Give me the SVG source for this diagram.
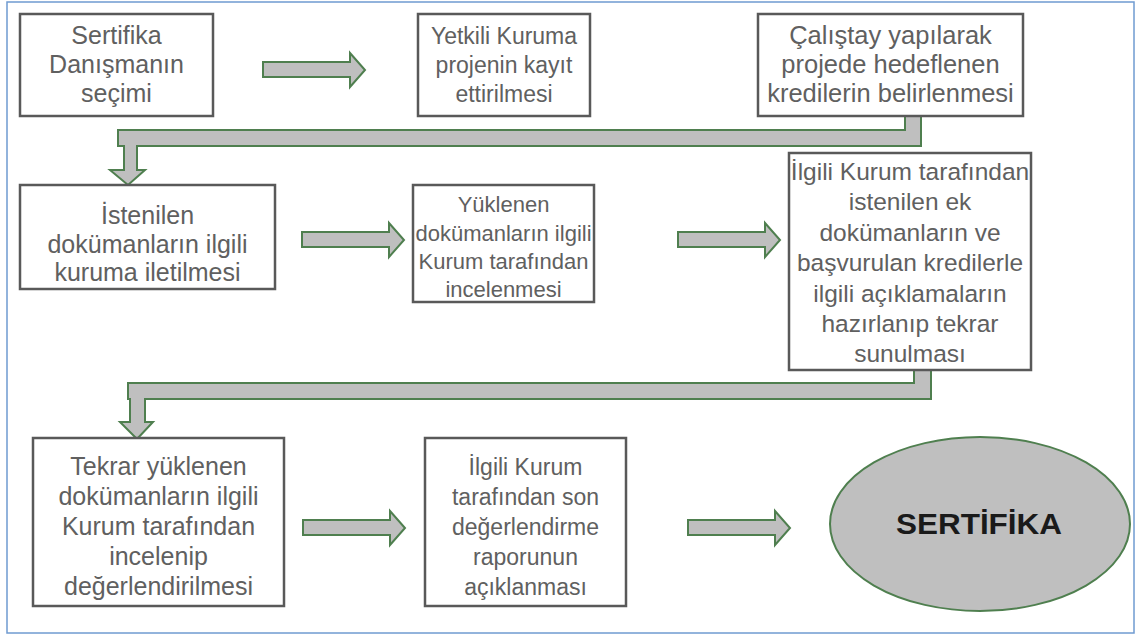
<svg xmlns="http://www.w3.org/2000/svg" width="1140" height="637" viewBox="0 0 1140 637">
<defs>
<style>
.box{fill:#ffffff;stroke:#595959;stroke-width:2.5}
.arr{fill:#bfbfbf;stroke:#4f7f4f;stroke-width:2;stroke-linejoin:miter}
.t{font-family:"Liberation Sans",Arial,sans-serif;font-size:23px;fill:#606060;text-anchor:middle}
.big{font-family:"Liberation Sans",Arial,sans-serif;font-size:29px;font-weight:bold;fill:#1a1a1a;text-anchor:middle}
</style>
</defs>
<rect x="0" y="0" width="1140" height="637" fill="#ffffff"/>
<rect x="7" y="2" width="1127" height="631" fill="none" stroke="#6f9bd1" stroke-width="1.5"/>
<g id="connectors">
<path class="arr" d="M263,62 L350,62 L350,53 L365,70 L350,87 L350,77 L263,77 Z"/>
<path class="arr" d="M302,232 L389,232 L389,223 L404,240 L389,257 L389,247 L302,247 Z"/>
<path class="arr" d="M678,232 L765,232 L765,223 L780,240 L765,257 L765,247 L678,247 Z"/>
<path class="arr" d="M303,520 L390,520 L390,511 L405,528 L390,545 L390,535 L303,535 Z"/>
<path class="arr" d="M688,520 L775,520 L775,511 L790,528 L775,545 L775,535 L688,535 Z"/>
<path class="arr" d="M905,116 L921,116 L921,146 L137,146 L137,170 L145,170 L128,185 L110,170 L124,170 L124,146 L118,146 L118,130 L905,130 Z"/>
<path class="arr" d="M914,370 L931,370 L931,399 L145,399 L145,422 L153,422 L137,439 L120,422 L130,422 L130,399 L128,399 L128,383 L914,383 Z"/>
</g>
<g id="n1"><rect class="box" x="20" y="14" width="193" height="102"/>
<text class="t" style="font-size:25px" x="116.5" y="44">Sertifika</text><text class="t" style="font-size:25px" x="116.5" y="73">Danışmanın</text><text class="t" style="font-size:25px" x="116.5" y="102">seçimi</text></g>
<g id="n2"><rect class="box" x="418" y="14" width="172" height="102"/>
<text class="t" x="504" y="44">Yetkili Kuruma</text><text class="t" x="504" y="73">projenin kayıt</text><text class="t" x="504" y="102">ettirilmesi</text></g>
<g id="n3"><rect class="box" x="758" y="14" width="265" height="102"/>
<text class="t" style="font-size:25.5px" x="890.5" y="44">Çalıştay yapılarak</text><text class="t" style="font-size:25.5px" x="890.5" y="73">projede hedeflenen</text><text class="t" style="font-size:25.5px" x="890.5" y="102">kredilerin belirlenmesi</text></g>
<g id="n4"><rect class="box" x="20" y="185" width="255" height="104"/>
<text class="t" style="font-size:25px" x="147.5" y="224">İstenilen</text><text class="t" style="font-size:25px" x="147.5" y="253">dokümanların ilgili</text><text class="t" style="font-size:25px" x="147.5" y="281">kuruma iletilmesi</text></g>
<g id="n5"><rect class="box" x="413" y="185" width="181" height="117"/>
<text class="t" style="font-size:22px" x="503.5" y="212">Yüklenen</text><text class="t" style="font-size:22px" x="503.5" y="241">dokümanların ilgili</text><text class="t" style="font-size:22px" x="503.5" y="269">Kurum tarafından</text><text class="t" style="font-size:22px" x="503.5" y="297">incelenmesi</text></g>
<g id="n6"><rect class="box" x="789" y="153" width="242" height="217"/>
<text class="t" style="font-size:24.5px" x="910" y="180">İlgili Kurum tarafından</text><text class="t" style="font-size:24.5px" x="910" y="210">istenilen ek</text><text class="t" style="font-size:24.5px" x="910" y="241">dokümanların ve</text><text class="t" style="font-size:24.5px" x="910" y="271">başvurulan kredilerle</text><text class="t" style="font-size:24.5px" x="910" y="302">ilgili açıklamaların</text><text class="t" style="font-size:24.5px" x="910" y="332">hazırlanıp tekrar</text><text class="t" style="font-size:24.5px" x="910" y="362">sunulması</text></g>
<g id="n7"><rect class="box" x="33" y="438" width="251" height="168"/>
<text class="t" style="font-size:25px" x="158.5" y="475">Tekrar yüklenen</text><text class="t" style="font-size:25px" x="158.5" y="505">dokümanların ilgili</text><text class="t" style="font-size:25px" x="158.5" y="535">Kurum tarafından</text><text class="t" style="font-size:25px" x="158.5" y="565">incelenip</text><text class="t" style="font-size:25px" x="158.5" y="595">değerlendirilmesi</text></g>
<g id="n8"><rect class="box" x="425" y="438" width="201" height="168"/>
<text class="t" x="525.5" y="475">İlgili Kurum</text><text class="t" x="525.5" y="505">tarafından son</text><text class="t" x="525.5" y="535">değerlendirme</text><text class="t" x="525.5" y="565">raporunun</text><text class="t" x="525.5" y="595">açıklanması</text></g>
<g id="n9"><ellipse cx="980" cy="524" rx="150" ry="87" fill="#bfbfbf" stroke="#4f7f4f" stroke-width="2"/>
<text class="big" x="979" y="534" textLength="166" lengthAdjust="spacingAndGlyphs">SERTİFİKA</text></g>
</svg>
